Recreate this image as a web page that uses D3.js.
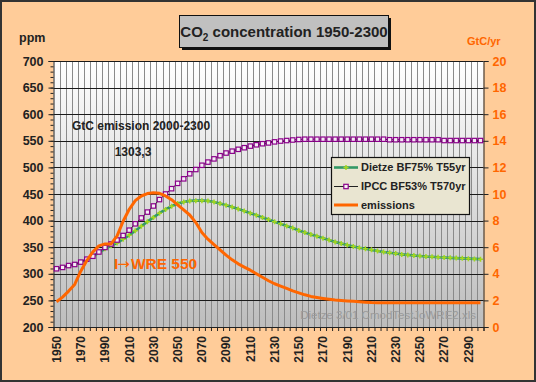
<!DOCTYPE html>
<html>
<head>
<meta charset="utf-8">
<script src="https://cdn.jsdelivr.net/npm/d3@7"></script>
<style>
  body { margin: 0; background: #fff; }
  svg { display: block; }
  text { font-family: "Liberation Sans", Arial, sans-serif; }
</style>
</head>
<body>
<div id="chart"></div>
<script>
// CO2 concentration 1950-2300 (Excel style combo chart, two y axes)
const years = d3.range(1950, 2301, 5);
const yearLabels = years.filter((y, i) => i % 4 === 0);

const dietze = [
  309.5, 312, 315.5, 317.5, 322, 327, 332.5, 340, 347, 352.5,
  358, 365, 372.5, 381, 389.5, 398, 406, 414, 421, 427,
  432, 435, 437, 437.5, 437.5, 437, 435, 432, 429, 425.5,
  422, 418, 414, 410, 406, 402, 398, 394, 390, 386,
  381.5, 377.5, 374, 370.5, 367, 363.5, 360, 357, 354, 351.5,
  349, 347, 345, 343, 341, 339.5, 338, 336.5, 335.5, 334.5,
  333.5, 332.5, 332, 331, 330.5, 330, 329.5, 329, 328.5, 328, 327.5
];
const ipcc = [
  309.5, 312, 315.5, 317.5, 322, 327.5, 333, 341, 349.5, 356,
  363.5, 372, 382, 394, 405, 416, 427.5, 439.5, 450, 460,
  470, 478.5, 488, 496, 504, 510, 516, 522, 527, 530.5,
  534, 537, 540, 542.5, 544.5, 546, 548, 549.5, 550.5, 551.5,
  552.5, 553, 553, 553, 553, 553, 553, 553, 553, 553,
  553, 553, 553, 553, 553, 552, 552, 552, 552, 552,
  552, 552, 552, 552, 550.5, 550.5, 550.5, 550.5, 550.5, 550.5, 550.5
];
const emissions = [
  1.9, 2.25, 2.7, 3.2, 4.2, 5.0, 5.65, 6.1, 6.25, 6.25,
  6.85, 7.95, 8.85, 9.5, 9.85, 10.03, 10.1, 10.05, 9.85, 9.57,
  9.18, 8.8, 8.42, 7.85, 7.1, 6.6, 6.2, 5.8, 5.4, 5.05,
  4.75, 4.5, 4.27, 4.0, 3.74, 3.48, 3.25, 3.08, 2.9, 2.72,
  2.57, 2.42, 2.3, 2.22, 2.15, 2.09, 2.03, 1.99, 1.96, 1.93,
  1.9, 1.87, 1.84, 1.83, 1.83, 1.83, 1.83, 1.83, 1.83, 1.83,
  1.83, 1.83, 1.83, 1.83, 1.83, 1.83, 1.83, 1.83, 1.83, 1.83, 1.83
];
const ppmTicks = d3.range(200, 701, 50);
const ppmMinor = d3.range(200, 701, 10);
const gtcTicks = d3.range(0, 21, 2);

const W = 536, H = 382;
const L = 53.5, R = 483.5, T = 61, B = 327;

const svg = d3.select("#chart").append("svg")
  .attr("width", W).attr("height", H);

const defs = svg.append("defs");
const grad = defs.append("linearGradient").attr("id", "plotBg")
  .attr("x1", 0).attr("y1", 0).attr("x2", 0).attr("y2", 1);
grad.append("stop").attr("offset", "0%").attr("stop-color", "#ffffff");
grad.append("stop").attr("offset", "100%").attr("stop-color", "#bdbdbd");

// chart area
svg.append("rect").attr("x", 1).attr("y", 1).attr("width", W - 2).attr("height", H - 2)
  .attr("fill", "#ffcc99").attr("stroke", "#333").attr("stroke-width", 2);

const x = d3.scaleBand().domain(years).range([L, R]).padding(0);
const xc = d => x(d) + x.bandwidth() / 2;
const xEdge = d3.scaleLinear().domain([0, years.length]).range([L, R]);
const yL = d3.scaleLinear().domain([200, 700]).range([B, T]);
const yR = d3.scaleLinear().domain([0, 20]).range([B, T]);

// plot area
svg.append("rect").attr("x", L).attr("y", T).attr("width", R - L).attr("height", B - T)
  .attr("fill", "url(#plotBg)");

// vertical gridlines at category edges
svg.append("g").selectAll("line").data(d3.range(1, years.length)).join("line")
  .attr("x1", i => Math.round(xEdge(i)) + 0.5).attr("x2", i => Math.round(xEdge(i)) + 0.5)
  .attr("y1", T).attr("y2", B)
  .attr("stroke", "#8a8a8a").attr("stroke-width", 1);

// horizontal gridlines
svg.append("g").selectAll("line").data(ppmTicks).join("line")
  .attr("x1", L).attr("x2", R)
  .attr("y1", d => Math.round(yL(d)) + 0.5).attr("y2", d => Math.round(yL(d)) + 0.5)
  .attr("stroke", "#1a1a1a").attr("stroke-width", 1);

// left axis
const axL = svg.append("g").attr("transform", `translate(${L},0)`)
  .call(d3.axisLeft(yL).tickValues(ppmTicks).tickSize(5).tickPadding(5));
svg.append("g").attr("transform", `translate(${L},0)`)
  .call(d3.axisLeft(yL).tickValues(ppmMinor).tickSize(3).tickFormat(""))
  .call(g => g.select(".domain").remove());
axL.selectAll("text").attr("font-size", "12.5px").attr("font-weight", "bold").attr("fill", "#222");

// right axis
const axR = svg.append("g").attr("transform", `translate(${R},0)`)
  .call(d3.axisRight(yR).tickValues(gtcTicks).tickSize(5).tickPadding(4));
axR.selectAll("text").attr("font-size", "12.5px").attr("font-weight", "bold").attr("fill", "#ff6600");

// bottom axis: ticks at category edges
svg.append("g").attr("transform", `translate(0,${B})`)
  .call(d3.axisBottom(xEdge).tickValues(d3.range(0, years.length + 1)).tickSize(4).tickFormat(""));

svg.selectAll(".domain").attr("stroke", "#222");
svg.selectAll(".tick line").attr("stroke", "#222");

svg.append("g").selectAll("text").data(yearLabels).join("text")
  .attr("transform", d => `translate(${xc(d)},${B + 9}) rotate(-90)`)
  .attr("dy", "0.36em").attr("text-anchor", "end")
  .attr("font-size", "12px").attr("font-weight", "bold").attr("fill", "#222")
  .text(d => d);

// series
const lineL = d3.line().x((d, i) => xc(years[i])).y(d => yL(d));
const lineR = d3.line().x((d, i) => xc(years[i])).y(d => yR(d));

svg.append("path").datum(dietze).attr("d", lineL)
  .attr("fill", "none").attr("stroke", "#339966").attr("stroke-width", 2.6);
svg.append("g").selectAll("path").data(dietze).join("path")
  .attr("d", (d, i) => { const cx = xc(years[i]), cy = yL(d); return `M${cx - 2.5},${cy}H${cx + 2.5}M${cx},${cy - 2.5}V${cy + 2.5}`; })
  .attr("stroke", "#a6d81c").attr("stroke-width", 1.5);

svg.append("path").datum(ipcc).attr("d", lineL)
  .attr("fill", "none").attr("stroke", "#222").attr("stroke-width", 1);
svg.append("g").selectAll("rect").data(ipcc).join("rect")
  .attr("x", (d, i) => xc(years[i]) - 2.2).attr("y", d => yL(d) - 2.2)
  .attr("width", 4.4).attr("height", 4.4)
  .attr("fill", "#f4eef4").attr("stroke", "#8b008b").attr("stroke-width", 1.2);

svg.append("path").datum(emissions).attr("d", lineR)
  .attr("fill", "none").attr("stroke", "#ff6600").attr("stroke-width", 3)
  .attr("stroke-linejoin", "round");

// title box
svg.append("rect").attr("x", 182).attr("y", 18).attr("width", 209).attr("height", 32).attr("fill", "#111");
svg.append("rect").attr("x", 179.5).attr("y", 15.5).attr("width", 209).attr("height", 32)
  .attr("fill", "#c0c0c0").attr("stroke", "#111").attr("stroke-width", 1);
const title = svg.append("text").attr("x", 284).attr("y", 37)
  .attr("text-anchor", "middle").attr("font-size", "15px").attr("font-weight", "bold").attr("fill", "#222");
title.append("tspan").text("CO");
title.append("tspan").attr("font-size", "10px").attr("dy", 4).text("2");
title.append("tspan").attr("dy", -4).text(" concentration 1950-2300");

// axis titles
svg.append("text").attr("x", 19).attr("y", 42)
  .attr("font-size", "12.5px").attr("font-weight", "bold").attr("fill", "#222").text("ppm");
svg.append("text").attr("x", 467).attr("y", 45)
  .attr("font-size", "11px").attr("font-weight", "bold").attr("fill", "#ff6600").text("GtC/yr");

// annotations
svg.append("text").attr("x", 72).attr("y", 129.5)
  .attr("font-size", "12px").attr("font-weight", "bold").attr("fill", "#222")
  .text("GtC emission 2000-2300");
svg.append("text").attr("x", 133).attr("y", 156)
  .attr("text-anchor", "middle").attr("font-size", "12px").attr("font-weight", "bold").attr("fill", "#222")
  .text("1303,3");
const wre = svg.append("text").attr("x", 114).attr("y", 269)
  .attr("font-size", "15.5px").attr("font-weight", "bold").attr("fill", "#ff6600");
wre.append("tspan").text("I");
wre.append("tspan").attr("font-family", "DejaVu Sans").attr("font-weight", "normal")
  .attr("font-size", "15px").attr("dx", -1).text("→");
wre.append("tspan").attr("dx", 1).text("WRE 550");
svg.append("text").attr("x", 476).attr("y", 319)
  .attr("text-anchor", "end").attr("font-size", "11.5px").attr("fill", "#9a9a9a")
  .text("Dietze 3/01 CmodTestJoWRE2.xls");

// legend
const lg = svg.append("g").attr("transform", "translate(331,157)");
lg.append("rect").attr("x", 0.5).attr("y", 0.5).attr("width", 138).attr("height", 57)
  .attr("fill", "#e9e5d1").attr("stroke", "#111").attr("stroke-width", 1.2);
const legendItems = [
  { name: "Dietze BF75% T55yr", y: 10.5 },
  { name: "IPCC BF53% T570yr", y: 29.5 },
  { name: "emissions", y: 48 }
];
lg.append("line").attr("x1", 3).attr("x2", 27).attr("y1", legendItems[0].y).attr("y2", legendItems[0].y)
  .attr("stroke", "#339966").attr("stroke-width", 2.6);
lg.append("path").attr("d", `M12.5,${legendItems[0].y}H17.5M15,${legendItems[0].y - 2.5}V${legendItems[0].y + 2.5}`)
  .attr("stroke", "#a6d81c").attr("stroke-width", 1.5);
lg.append("line").attr("x1", 3).attr("x2", 27).attr("y1", legendItems[1].y).attr("y2", legendItems[1].y)
  .attr("stroke", "#222").attr("stroke-width", 1);
lg.append("rect").attr("x", 12.8).attr("y", legendItems[1].y - 2.2).attr("width", 4.4).attr("height", 4.4)
  .attr("fill", "#f4eef4").attr("stroke", "#8b008b").attr("stroke-width", 1.2);
lg.append("line").attr("x1", 3).attr("x2", 27).attr("y1", legendItems[2].y).attr("y2", legendItems[2].y)
  .attr("stroke", "#ff6600").attr("stroke-width", 3);
lg.selectAll("text.item").data(legendItems).join("text")
  .attr("x", 30).attr("y", d => d.y).attr("dy", "0.36em")
  .attr("font-size", "11px").attr("font-weight", "bold").attr("fill", "#222")
  .text(d => d.name);
</script>
</body>
</html>
